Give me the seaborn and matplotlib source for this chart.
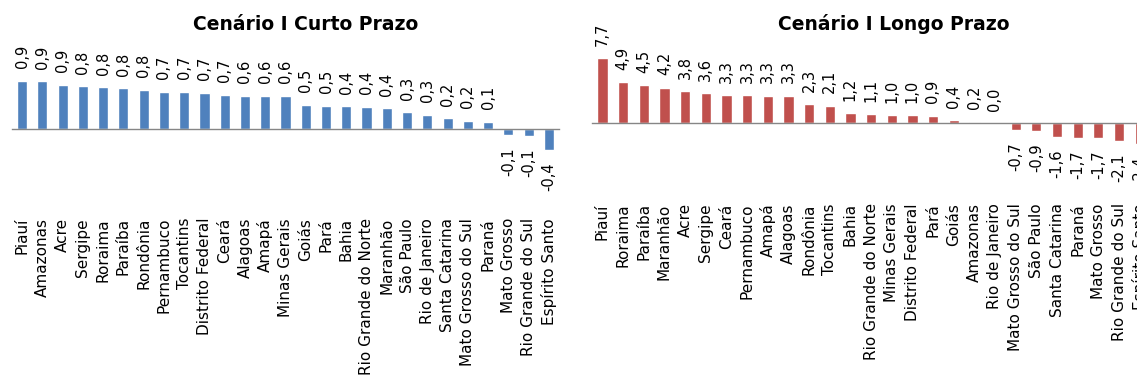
import matplotlib

matplotlib.use("Agg")
import matplotlib.pyplot as plt  # noqa: E402
import numpy as np  # noqa: E402
import pandas as pd  # noqa: E402
import seaborn as sns  # noqa: E402

BLUE = "#4F81BD"
RED = "#C0504D"
AXIS = "#868686"

estados_curto = [
    "Piauí", "Amazonas", "Acre", "Sergipe", "Roraima", "Paraíba", "Rondônia",
    "Pernambuco", "Tocantins", "Distrito Federal", "Ceará", "Alagoas", "Amapá",
    "Minas Gerais", "Goiás", "Pará", "Bahia", "Rio Grande do Norte", "Maranhão",
    "São Paulo", "Rio de Janeiro", "Santa Catarina", "Mato Grosso do Sul",
    "Paraná", "Mato Grosso", "Rio Grande do Sul", "Espírito Santo",
]
valores_curto = [
    0.93, 0.92, 0.86, 0.83, 0.81, 0.79, 0.76, 0.72, 0.72, 0.70, 0.66, 0.64, 0.64,
    0.64, 0.47, 0.45, 0.44, 0.43, 0.40, 0.32, 0.28, 0.21, 0.16, 0.14, -0.11,
    -0.14, -0.40,
]

estados_longo = [
    "Piauí", "Roraima", "Paraíba", "Maranhão", "Acre", "Sergipe", "Ceará",
    "Pernambuco", "Amapá", "Alagoas", "Rondônia", "Tocantins", "Bahia",
    "Rio Grande do Norte", "Minas Gerais", "Distrito Federal", "Pará", "Goiás",
    "Amazonas", "Rio de Janeiro", "Mato Grosso do Sul", "São Paulo",
    "Santa Catarina", "Paraná", "Mato Grosso", "Rio Grande do Sul", "Espírito Santo",
]
valores_longo = [
    7.72, 4.88, 4.52, 4.20, 3.82, 3.58, 3.32, 3.30, 3.28, 3.27, 2.26, 2.06, 1.17,
    1.08, 0.98, 0.97, 0.88, 0.38, 0.18, 0.0, -0.74, -0.92, -1.62, -1.70, -1.71,
    -2.12, -2.42,
]


def painel(ax, estados, valores, cor, ylim, pad):
    df = pd.DataFrame({"Estado": estados, "Valor": valores})
    sns.barplot(data=df, x="Estado", y="Valor", color=cor, saturation=1,
                width=0.5, ax=ax)
    ax.set_ylim(*ylim)
    ax.set_xlim(-0.5, len(estados) - 0.5)
    ax.set_xlabel("")
    ax.set_ylabel("")
    ax.set_yticks([])
    for s in ("left", "right", "top"):
        ax.spines[s].set_visible(False)
    ax.spines["bottom"].set_position(("data", 0))
    ax.spines["bottom"].set_color(AXIS)
    ax.spines["bottom"].set_linewidth(1.0)
    ax.set_xticks(np.arange(-0.5, len(estados), 1), minor=True)
    ax.tick_params(axis="x", which="minor", length=4, width=1, color=AXIS,
                   direction="out")
    ax.tick_params(axis="x", which="major", length=0, pad=pad, labelsize=11,
                   labelrotation=90, labelcolor="black")
    for t in ax.get_xticklabels():
        t.set_va("top")
        t.set_ha("center")
    # rótulos no formato brasileiro (vírgula decimal)
    rotulos = [f"{v:.1f}".replace(".", ",") for v in valores]
    ax.bar_label(ax.containers[0], labels=rotulos, padding=9, rotation=90,
                 fontsize=10.5, color="black")
    ax.set_facecolor("white")


sns.set_style("white")
plt.rcParams["font.family"] = ["DejaVu Sans"]
plt.rcParams["text.color"] = "black"

fig = plt.figure(figsize=(11.37, 3.81), dpi=100)
ax1 = fig.add_axes([12 / 1137, 0.5257, 547 / 1137, 0.2985])
ax2 = fig.add_axes([592 / 1137, 0.6097, 558 / 1137, 0.2442])

painel(ax1, estados_curto, valores_curto, BLUE, (-1.0, 1.2), 64)
painel(ax2, estados_longo, valores_longo, RED, (-3.0, 8.0), 57.6)

fig.text(306 / 1137, 1 - 29.5 / 381, "Cenário I Curto Prazo", ha="center",
         va="baseline", fontsize=13.5, fontweight="bold", color="black")
fig.text(894 / 1137, 1 - 29.5 / 381, "Cenário I Longo Prazo", ha="center",
         va="baseline", fontsize=13.5, fontweight="bold", color="black")

fig.savefig("out.png", dpi=100, facecolor="white")
